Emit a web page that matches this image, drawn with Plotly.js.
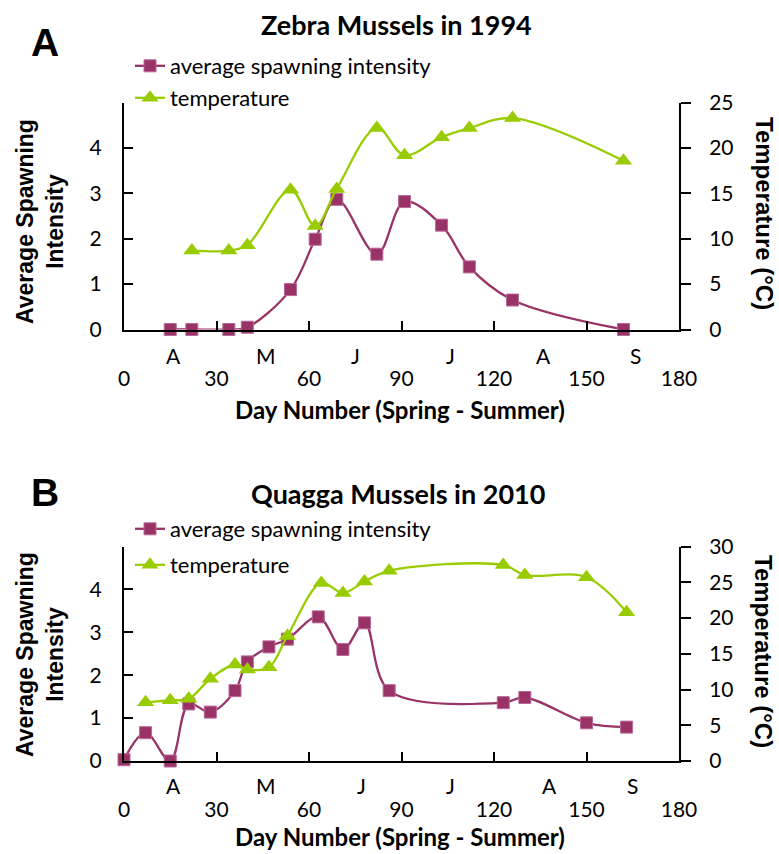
<!DOCTYPE html>
<html><head><meta charset="utf-8">
<script src="https://cdn.plot.ly/plotly-3.0.1.min.js"></script>
<style>html,body{margin:0;padding:0;background:#fff;}#chart{width:779px;height:854px;}</style>
</head><body><div id="chart"></div>
<script>
// ---- Data: Panel A (Zebra Mussels 1994) ----
const daysSpawnA = [15, 22, 34, 40, 54, 62, 69, 82, 91, 103, 112, 126, 162];
const spawnA     = [0, 0, 0, 0.05, 0.88, 1.99, 2.87, 1.66, 2.82, 2.30, 1.38, 0.65, 0];
const daysTempA  = [22, 34, 40, 54, 62, 69, 82, 91, 103, 112, 126, 162];
const tempA      = [8.7, 8.7, 9.3, 15.4, 11.4, 15.5, 22.2, 19.2, 21.2, 22.2, 23.3, 18.6];

// ---- Data: Panel B (Quagga Mussels 2010) ----
const daysSpawnB = [0, 7, 15, 21, 28, 36, 40, 47, 53, 63, 71, 78, 86, 123, 130, 150, 163];
const spawnB     = [0.03, 0.66, 0, 1.33, 1.14, 1.64, 2.31, 2.66, 2.84, 3.36, 2.60, 3.22, 1.64, 1.36, 1.48, 0.89, 0.79];
const daysTempB  = [7, 15, 21, 28, 36, 40, 47, 53, 64, 71, 78, 86, 123, 130, 150, 163];
const tempB      = [8.2, 8.5, 8.7, 11.5, 13.5, 12.8, 13.1, 17.5, 24.9, 23.5, 25.1, 26.6, 27.4, 26.0, 25.7, 20.8];

// ---- Tick labels ----
const xTicks = [0, 30, 60, 90, 120, 150, 180];
const spawnTicks = [0, 1, 2, 3, 4];
const tempTicksA = [0, 5, 10, 15, 20, 25];
const tempTicksB = [0, 5, 10, 15, 20, 25, 30];
const monthLabels = ['A', 'M', 'J', 'J', 'A', 'S'];
const monthDaysA = [16, 46, 75, 106, 136, 166];
const monthDaysB = [16, 46, 77, 106, 138, 165];

const titleA = 'Zebra Mussels in 1994';
const titleB = 'Quagga Mussels in 2010';
const spawnName = 'average spawning intensity';
const tempName = 'temperature';

// ---- Styling ----
const W = 779, H = 854;
const PURPLE = '#993366', GREEN = '#99CC00';
const TICKFONT = {family: 'Lato, "Open Sans", sans-serif', size: 21, color: '#000'};
const px = v => v / W;           // x pixel -> paper
const py = v => 1 - v / H;       // y pixel -> paper
const xDom = [px(124), px(679)];
const domA = [py(329.5), py(102.7)];
const domB = [py(761), py(546.5)];

function spawnTrace(x, y, xa, ya, lg) {
  return {x, y, xaxis: xa, yaxis: ya, name: spawnName, legend: lg, type: 'scatter', mode: 'lines+markers',
    line: {color: PURPLE, width: 2.3, shape: 'spline', smoothing: 1},
    marker: {symbol: 'square', size: 12, color: PURPLE, line: {color: '#b8679a', width: 1}}, cliponaxis: false};
}
function tempTrace(x, y, xa, ya, lg) {
  return {x, y, xaxis: xa, yaxis: ya, name: tempName, legend: lg, type: 'scatter', mode: 'lines+markers',
    line: {color: GREEN, width: 2.3, shape: 'spline', smoothing: 1},
    marker: {symbol: 'triangle-up', size: 15, color: GREEN}, cliponaxis: false};
}

const data = [
  spawnTrace(daysSpawnA, spawnA, 'x', 'y', 'legend'),
  tempTrace(daysTempA, tempA, 'x', 'y2', 'legend2'),
  spawnTrace(daysSpawnB, spawnB, 'x2', 'y3', 'legend3'),
  tempTrace(daysTempB, tempB, 'x2', 'y4', 'legend4')
];

function xAxis(anchor) {
  return {domain: xDom, anchor, range: [0, 180], tickvals: xTicks, ticktext: xTicks.map(String),
    ticks: 'inside', ticklen: 9, tickwidth: 2, tickcolor: '#000', showline: true, linewidth: 2, linecolor: '#000',
    showgrid: false, zeroline: false, tickfont: TICKFONT, ticklabelstandoff: 29, fixedrange: true};
}
function leftAxis(dom, anchor) {
  return {domain: dom, anchor, range: [0, 5], tickvals: spawnTicks, ticktext: spawnTicks.map(String),
    ticks: 'inside', ticklen: 9, tickwidth: 2, tickcolor: '#000', showline: true, linewidth: 2, linecolor: '#000',
    showgrid: false, zeroline: false, tickfont: TICKFONT, ticklabelstandoff: 16, fixedrange: true};
}
function rightAxis(over, anchor, max, vals) {
  return {overlaying: over, anchor, side: 'right', range: [0, max], tickvals: vals, ticktext: vals.map(String),
    ticks: 'outside', ticklen: 10, tickwidth: 2, tickcolor: '#000', showline: true, linewidth: 2, linecolor: '#000',
    showgrid: false, zeroline: false, tickfont: TICKFONT, ticklabelstandoff: 14, fixedrange: true};
}

const legFont = {family: 'Lato, "Open Sans", sans-serif', size: 22, color: '#000'};
function leg(xp, yp) {
  return {x: px(xp), y: py(yp), xanchor: 'left', yanchor: 'middle', xref: 'paper', yref: 'paper',
    bgcolor: 'rgba(0,0,0,0)', borderwidth: 0, font: legFont, itemwidth: 30};
}

const annotations = [];
const titleFont = {family: 'Lato, "Open Sans", sans-serif', size: 27, color: '#000', weight: 'bold'};
const letterFont = {family: '"Liberation Sans", Arial, sans-serif', size: 39, color: '#000', weight: 'bold'};
const axTitleFont = {family: '"Liberation Sans", Arial, sans-serif', size: 23, color: '#000', weight: 'bold'};
const tempTitleFont = {family: '"Liberation Sans", Arial, sans-serif', size: 24, color: '#000', weight: 'bold'};
const xTitleFont = {family: 'Lato, "Open Sans", sans-serif', size: 24, color: '#000', weight: 'bold'};
function ann(text, x, y, font, extra) {
  annotations.push(Object.assign({text, x: px(x), y: py(y), xref: 'paper', yref: 'paper', showarrow: false,
    xanchor: 'center', yanchor: 'middle', font}, extra || {}));
}
ann('<b>' + titleA + '</b>', 396, 24, titleFont);
ann('<b>' + titleB + '</b>', 398, 493, titleFont);
ann('<b>A</b>', 45, 43, letterFont);
ann('<b>B</b>', 45, 492, letterFont);
ann('<b>Average Spawning<br>Intensity</b>', 40, 222, axTitleFont, {textangle: -90});
ann('<b>Average Spawning<br>Intensity</b>', 40, 655, axTitleFont, {textangle: -90});
ann('<b>Temperature (°C)</b>', 764, 213, tempTitleFont, {textangle: 90});
ann('<b>Temperature (°C)</b>', 764, 651, tempTitleFont, {textangle: 90});
ann('<b>Day Number (Spring - Summer)</b>', 400, 409, xTitleFont);
ann('<b>Day Number (Spring - Summer)</b>', 400, 836, xTitleFont);
monthLabels.forEach((m, i) => {
  annotations.push({text: m, x: monthDaysA[i], xref: 'x', y: py(355), yref: 'paper', showarrow: false,
    xanchor: 'center', yanchor: 'middle', font: TICKFONT});
  annotations.push({text: m, x: monthDaysB[i], xref: 'x2', y: py(785), yref: 'paper', showarrow: false,
    xanchor: 'center', yanchor: 'middle', font: TICKFONT});
});

const layout = {
  width: W, height: H, margin: {l: 0, r: 0, t: 0, b: 0},
  paper_bgcolor: '#fff', plot_bgcolor: 'rgba(0,0,0,0)',
  font: {family: 'Lato, "Open Sans", sans-serif', color: '#000'},
  showlegend: true,
  xaxis: xAxis('y'),
  yaxis: leftAxis(domA, 'x'),
  yaxis2: rightAxis('y', 'x', 25, tempTicksA),
  xaxis2: xAxis('y3'),
  yaxis3: leftAxis(domB, 'x2'),
  yaxis4: rightAxis('y3', 'x2', 30, tempTicksB),
  legend: leg(130, 66),
  legend2: leg(130, 98),
  legend3: leg(130, 529),
  legend4: leg(130, 565),
  annotations
};

Plotly.newPlot('chart', data, layout, {staticPlot: true, displayModeBar: false});
</script></body></html>
